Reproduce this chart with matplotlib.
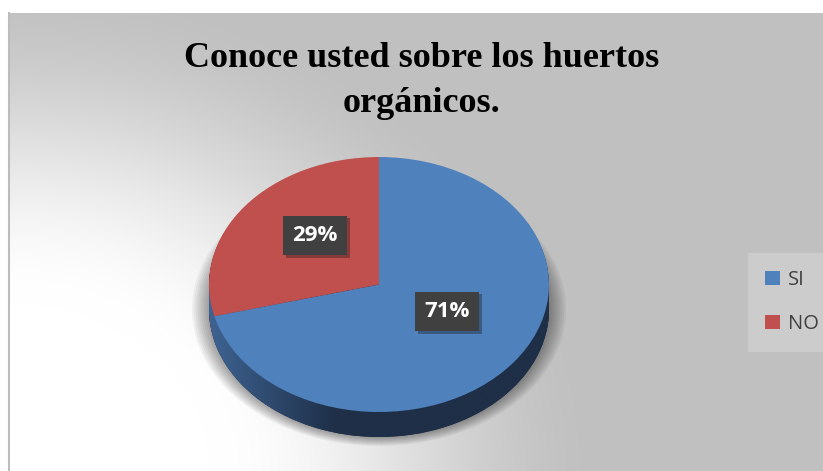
import numpy as np
import matplotlib
matplotlib.use("Agg")
import matplotlib.pyplot as plt
from matplotlib.patches import Rectangle, Ellipse
import matplotlib.patheffects as pe

# ---- data ----
categories = ["SI", "NO"]
values = [71, 29]
colors = ["#4f81bd", "#c0504d"]
title = "Conoce usted sobre los huertos\norgánicos."

W, H = 823, 471
fig = plt.figure(figsize=(W / 100, H / 100), dpi=100)
fig.patch.set_facecolor("white")

# ---- background (pixel coordinates) ----
bg = fig.add_axes([0, 0, 1, 1])
bg.set_xlim(0, W)
bg.set_ylim(H, 0)
bg.axis("off")
x0, y0 = 9, 13
xs = np.arange(x0, W) + 0.5
ys = np.arange(y0, H) + 0.5
X, Y = np.meshgrid(xs, ys)
d = np.sqrt((X - x0) ** 2 + ((H - Y) * 1.2) ** 2)
s = np.clip((600 - d) / 400.0, 0, 1)
t = s * s * (3 - 2 * s)
v = (192 + 63 * t) / 255.0
img = np.dstack([v, v, v])
bg.imshow(img, extent=(x0, W, H, y0), interpolation="bilinear", zorder=0)
bg.plot([x0 + 0.5, x0 + 0.5], [y0, H], color="#bcbcbc", lw=1.5, zorder=1)

fig.text(422 / W, 1 - 42 / H, title, ha="center", va="top",
         fontsize=26, fontweight="bold", family="Liberation Serif",
         linespacing=1.5, color="black")

# ---- pie axes: radius 1 = 170 px horizontally, 127.5 px vertically ----
cx, cy, rx, ry = 379, 284.5, 170.0, 127.5
ax = fig.add_axes([0, 0, 1, 1])
ax.patch.set_alpha(0)
depth = 25 / ry

# soft shadow hugging the lower part of the pie
for k in range(9):
    gx_ = (9 - k) * 1.9 / rx
    gy_ = (9 - k) * 1.0 / ry
    ax.add_patch(Ellipse((0, -depth * 1.0), 2 + 2 * gx_, 2 + 2 * gy_,
                         facecolor="black", edgecolor="none", alpha=0.045, zorder=1))

# side (stacked pies)
n = 26
for k in range(n, 0, -1):
    w, _ = ax.pie(values, colors=["#1f3049", "#5a2523"], startangle=90,
                  counterclock=False, center=(0, -depth * k / n), radius=1,
                  wedgeprops=dict(linewidth=0))
    for ww in w:
        ww.set_zorder(2)

# horizontal gradient on the side
gx = np.linspace(-1, 1, 300)
gcol = np.clip((gx + 1.0) / 0.75, 0, 1)
c_light = np.array([0x3e, 0x63, 0x92]) / 255.0
c_dark = np.array([0x1e, 0x2f, 0x47]) / 255.0
grad = c_light[None, :] * (1 - gcol[:, None]) + c_dark[None, :] * gcol[:, None]
grad = grad[None, :, :]
clip1 = Ellipse((0, -depth), 2, 2, transform=ax.transData)
clip2 = Rectangle((-1, -depth), 2, depth, transform=ax.transData)
for cp in (clip1, clip2):
    im = ax.imshow(grad, extent=(-1, 1, -1 - depth, 0), aspect="auto",
                   interpolation="bilinear", zorder=3)
    im.set_clip_path(cp)

# top face
wedges, _ = ax.pie(values, colors=colors, startangle=90, counterclock=False,
                   center=(0, 0), radius=1, wedgeprops=dict(linewidth=0))
for ww in wedges:
    ww.set_zorder(5)

ax.set_aspect("auto")
ax.set_xlim((0 - cx) / rx, (W - cx) / rx)
ax.set_ylim((cy - H) / ry, (cy - 0) / ry)
ax.axis("off")

# data labels
label_pos = {"NO": ((315 - cx) / rx, (cy - 235.5) / ry),
             "SI": ((447 - cx) / rx, (cy - 311.5) / ry)}
for cat, val in zip(categories, values):
    lx, ly = label_pos[cat]
    tx = ax.text(lx, ly, f"{val}%", ha="center", va="center", fontsize=16,
                 fontweight="bold", family="Open Sans", color="white", zorder=10,
                 bbox=dict(boxstyle="square,pad=0.42", facecolor="#404040",
                           edgecolor="none"))
    tx.get_bbox_patch().set_path_effects(
        [pe.SimplePatchShadow(offset=(2, -2), alpha=0.35), pe.Normal()])

# legend
leg = fig.legend(wedges, categories, loc="center left",
                 bbox_to_anchor=(748 / W, 1 - 302 / H), borderaxespad=0,
                 frameon=True, fancybox=False,
                 handlelength=0.75, handleheight=0.75, handletextpad=0.4,
                 labelspacing=1.2, borderpad=0.85,
                 prop=dict(family="Open Sans", size=14.5))
leg.get_frame().set_facecolor("#d0d0d0")
leg.get_frame().set_edgecolor("#d0d0d0")
leg.get_frame().set_linewidth(0.5)
for txt in leg.get_texts():
    txt.set_color("#404040")

fig.savefig("out.png", dpi=100)
